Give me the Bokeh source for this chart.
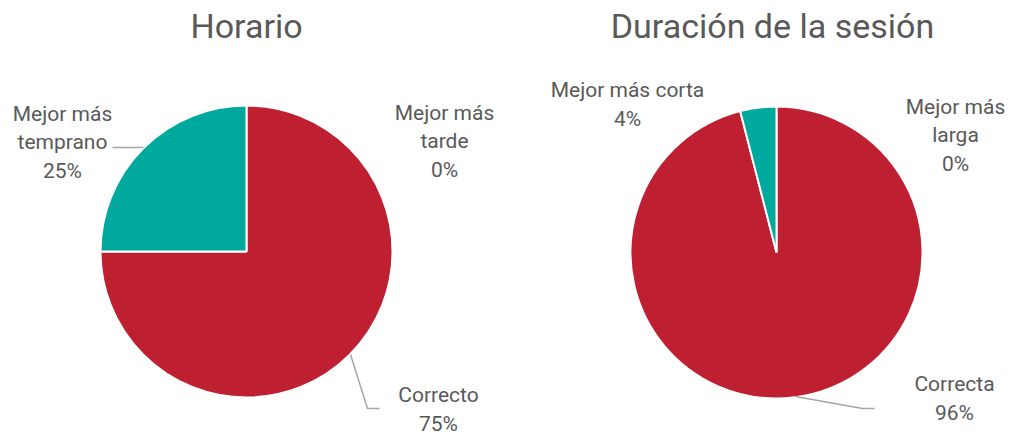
import math
from bokeh.plotting import figure
from bokeh.models import Range1d, ColumnDataSource
from bokeh.core.properties import value
from bokeh.embed import file_html
from bokeh.resources import INLINE

# ---- data ----
horario_titulo = "Horario"
horario_cats = ["Mejor más tarde", "Correcto", "Mejor más temprano"]
horario_vals = [0, 75, 25]
horario_labels = ["Mejor más\ntarde", "Correcto", "Mejor más\ntemprano"]

duracion_titulo = "Duración de la sesión"
duracion_cats = ["Mejor más larga", "Correcta", "Mejor más corta"]
duracion_vals = [0, 96, 4]
duracion_labels = ["Mejor más\nlarga", "Correcta", "Mejor más corta"]

colores = {"Mejor más tarde": "#00A99D", "Correcto": "#BE2032", "Mejor más temprano": "#00A99D",
           "Mejor más larga": "#00A99D", "Correcta": "#BE2032", "Mejor más corta": "#00A99D"}

# ---- layout (image pixel coords; y measured from top) ----
W, H = 1011, 438
FONT = "Roboto"
TXT = "#595959"

def Y(y):
    return H - y

p = figure(width=W, height=H, x_range=Range1d(0, W), y_range=Range1d(0, H),
           output_backend="svg", toolbar_location=None, min_border=0)
p.axis.visible = False
p.grid.visible = False
p.outline_line_color = None
p.background_fill_color = "white"

pies = [
    dict(title=horario_titulo, cats=horario_cats, vals=horario_vals, labels=horario_labels,
         cx=246, cy=251, r=146, tx=246, ty=25,
         lab_pos=[(444, 141), (438, 409), (62, 142)],
         leaders=[None, [(350, 354), (367, 408), (379, 408)], [(143, 147), (112, 147)]]),
    dict(title=duracion_titulo, cats=duracion_cats, vals=duracion_vals, labels=duracion_labels,
         cx=776, cy=252, r=146, tx=772, ty=25,
         lab_pos=[(955, 135), (954, 398), (627, 104)],
         leaders=[None, [(795, 396), (862, 408), (874, 408)], None]),
]

for pie in pies:
    total = float(sum(pie["vals"]))
    cum = 0.0
    xs, ys, starts, ends, cols = [], [], [], [], []
    for cat, v in zip(pie["cats"], pie["vals"]):
        a0 = math.pi / 2 - 2 * math.pi * cum / total
        cum += v
        a1 = math.pi / 2 - 2 * math.pi * cum / total
        if v > 0:
            xs.append(pie["cx"]); ys.append(Y(pie["cy"]))
            starts.append(a0); ends.append(a1); cols.append(colores[cat])
    src = ColumnDataSource(dict(x=xs, y=ys, s=starts, e=ends, c=cols))
    p.wedge(x="x", y="y", radius=pie["r"], radius_units="screen", start_angle="s", end_angle="e",
            direction="clock", fill_color="c", line_color="white", line_width=2, source=src)

    # leaders
    for ld in pie["leaders"]:
        if ld:
            p.line([q[0] for q in ld], [Y(q[1]) for q in ld], line_color="#A6A6A6", line_width=1.5)

    # labels
    texts = [f"{lab}\n{v:.0f}%" for lab, v in zip(pie["labels"], pie["vals"])]
    p.text(x=[q[0] for q in pie["lab_pos"]], y=[Y(q[1]) for q in pie["lab_pos"]], text=texts,
           text_font=value(FONT), text_font_size="21px", text_color=TXT,
           text_align="center", text_baseline="middle", text_line_height=1.2)

    # title
    p.text(x=[pie["tx"]], y=[Y(pie["ty"])], text=[pie["title"]], text_font=value(FONT),
           text_font_size="34px", text_color=TXT, text_align="center", text_baseline="middle")

open("out.html", "w").write(file_html(p, INLINE))
